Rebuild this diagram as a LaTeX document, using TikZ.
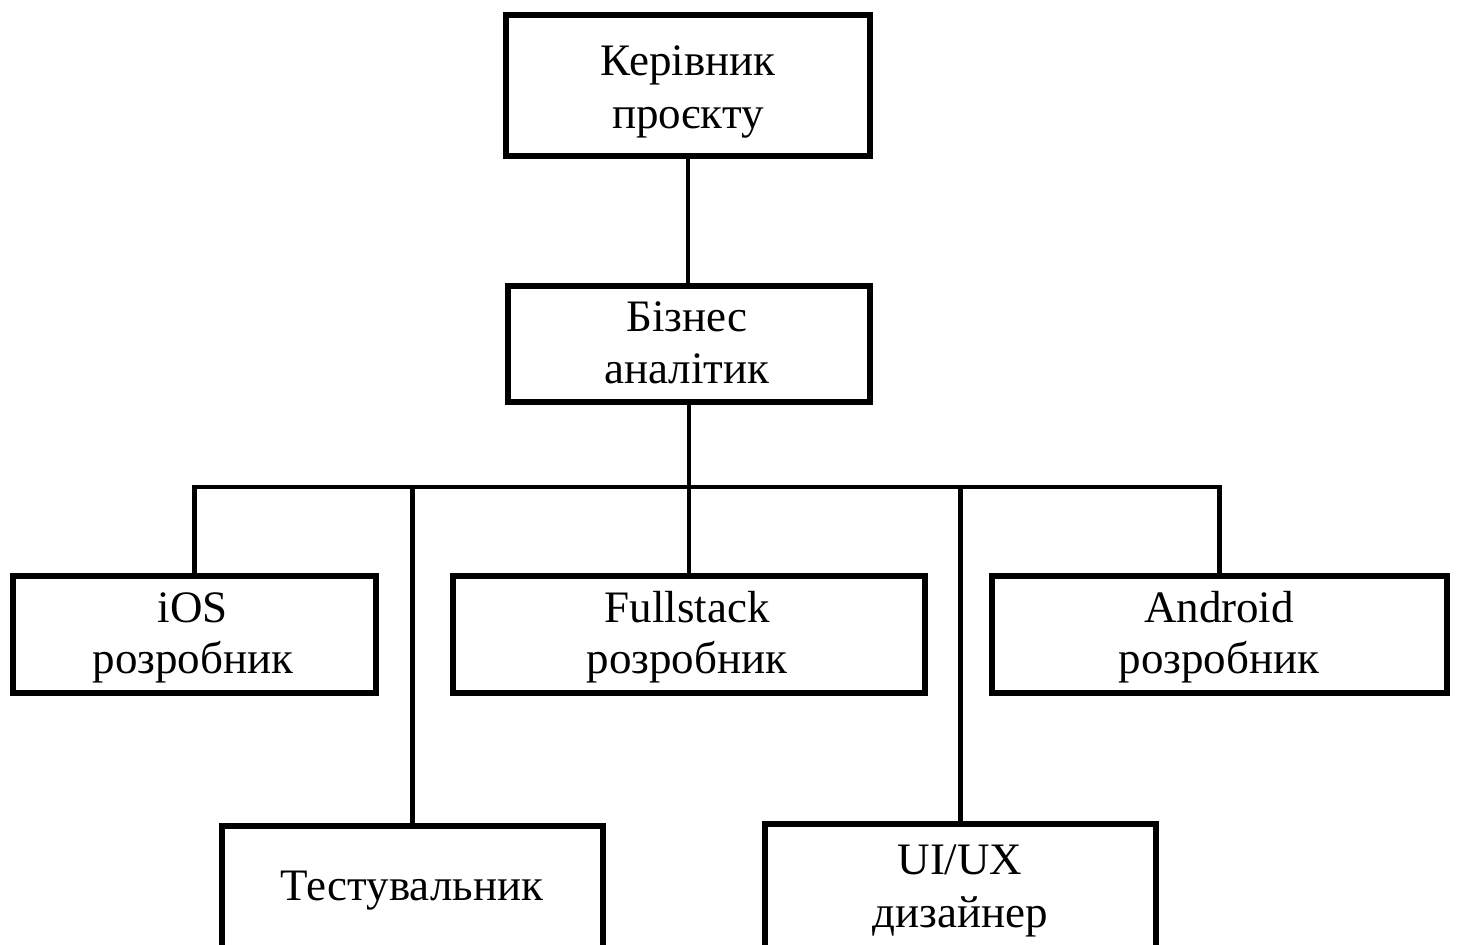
\documentclass[tikz,border=0pt]{standalone}
\usepackage{fontspec}
\setmainfont{Liberation Serif}
\begin{document}
\begin{tikzpicture}[x=1pt,y=-1pt,
  rolebox/.style={draw=black, line width=6pt, fill=white, rectangle, inner sep=0pt, outer sep=0pt},
  conn/.style={draw=black, line width=4.5pt, line join=miter},
  txt/.style={anchor=base, inner sep=0pt, font=\fontsize{45}{53}\selectfont}]
  \path[use as bounding box] (0,0) rectangle (1457,945);
  \clip (0,0) rectangle (1457,945);

  % connector level shared by the five lower boxes
  \coordinate (bus) at (0,487);

  % boxes (empty shapes; labels are set line by line below)
  \node[rolebox, minimum width=364pt, minimum height=141pt] (pm)   at (688,85.5)  {};
  \node[rolebox, minimum width=362pt, minimum height=116pt] (ba)   at (689,344)   {};
  \node[rolebox, minimum width=363pt, minimum height=117.5pt] (ios)  at (194.5,634.25) {};
  \node[rolebox, minimum width=472.5pt, minimum height=117.5pt] (fs) at (688.8,634.25) {};
  \node[rolebox, minimum width=455pt, minimum height=117.5pt] (andr) at (1219.5,634.25) {};
  \node[rolebox, minimum width=381pt, minimum height=124pt] (test) at (412.5,888) {};
  \node[rolebox, minimum width=391pt, minimum height=126pt] (uiux) at (960.5,887) {};

  % connectors
  \draw[conn] (pm.south) -- (pm.south |- ba.north);
  \draw[conn] (ba.south) -- (ba.south |- bus);
  \draw[conn] (ios.north) -- (ios.north |- bus) -- (andr.north |- bus) -- (andr.north);
  \draw[conn] (test.north) -- (test.north |- bus);
  \draw[conn] (fs.north) -- (fs.north |- bus);
  \draw[conn] (uiux.north) -- (uiux.north |- bus);

  % redraw box outlines over connector ends
  \foreach \b in {pm,ba,ios,fs,andr,test,uiux}
    \draw[line width=6pt] (\b.north west) rectangle (\b.south east);

  % labels
  \node[txt] (pm1) at (688,75)  {Керівник};
  \node[txt] (pm2) at (688,128) {проєкту};
  \node[txt] (ba1) at (687,331) {Бізнес};
  \node[txt] (ba2) at (687,383) {аналітик};
  \node[txt] (ios1) at (193,622) {iOS};
  \node[txt] (ios2) at (193,673) {розробник};
  \node[txt] (fs1) at (687,622) {Fullstack};
  \node[txt] (fs2) at (687,673) {розробник};
  \node[txt] (and1) at (1219,622) {Android};
  \node[txt] (and2) at (1219,673) {розробник};
  \node[txt] (test1) at (412,900) {Тестувальник};
  \node[txt] (ui1) at (960,874) {UI/UX};
  \node[txt] (ui2) at (960,927) {дизайнер};
\end{tikzpicture}
\end{document}
